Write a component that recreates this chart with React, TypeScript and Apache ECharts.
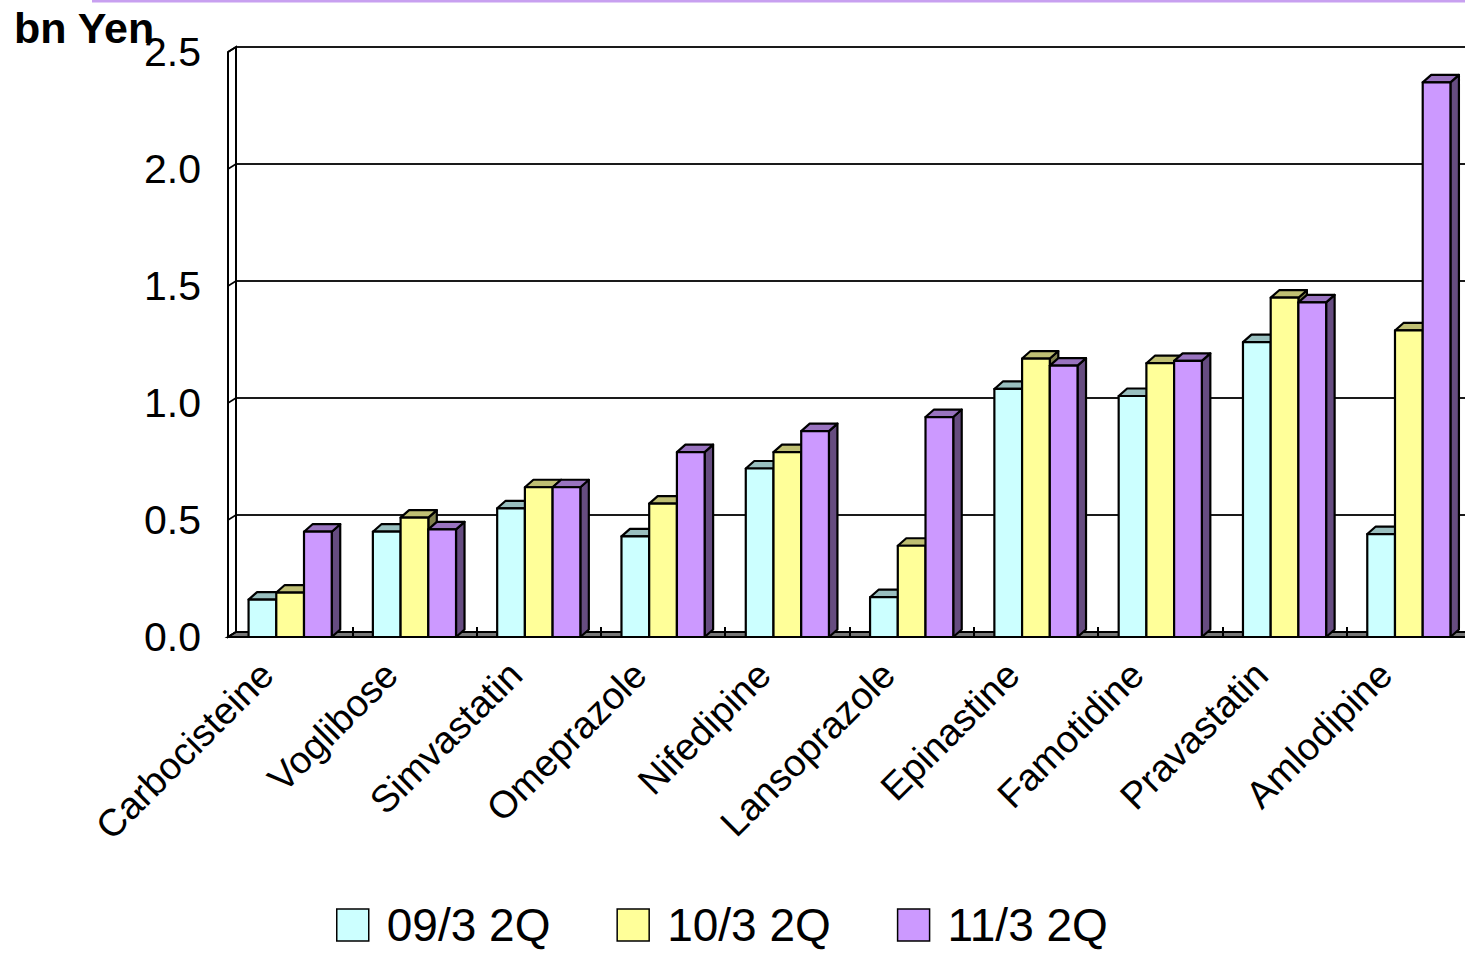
import React, { useEffect, useRef } from "react";
import * as echarts from "echarts";

const categories = [
  "Carbocisteine",
  "Voglibose",
  "Simvastatin",
  "Omeprazole",
  "Nifedipine",
  "Lansoprazole",
  "Epinastine",
  "Famotidine",
  "Pravastatin",
  "Amlodipine",
];
const seriesNames = ["09/3 2Q", "10/3 2Q", "11/3 2Q"];
const s0903 = [0.16, 0.45, 0.55, 0.43, 0.72, 0.17, 1.06, 1.03, 1.26, 0.44];
const s1003 = [0.19, 0.51, 0.64, 0.57, 0.79, 0.39, 1.19, 1.17, 1.45, 1.31];
const s1103 = [0.45, 0.46, 0.64, 0.79, 0.88, 0.94, 1.16, 1.18, 1.43, 2.37];
const yTicks = [0, 0.5, 1.0, 1.5, 2.0, 2.5];
const Y_MAX = 2.5;
const Y_STEP = 0.5;

const FONT = "Liberation Sans, Arial, sans-serif";
const frontColors = ["#ccffff", "#ffff99", "#cc99ff"];
const topColors = ["#99bfbf", "#bfbf73", "#9973bf"];
const sideColors = ["#668080", "#80804c", "#664c80"];

const BAR_DX = 8.5;
const BAR_DY = -7.5;
const WALL_DX = 8;
const WALL_DY = -5;

function barRenderer(k: number) {
  return (params: any, api: any) => {
    const ci = api.value(0);
    const v = api.value(1);
    const p0 = api.coord([ci, 0]);
    const p1 = api.coord([ci, v]);
    const band = api.size([1, 0])[0];
    const bw = band * 0.223;
    const x0 = p0[0] - 1.5 * bw + k * bw;
    const x1 = x0 + bw;
    const yb = p0[1];
    const yt = p1[1];
    const stroke = { stroke: "#000", lineWidth: 2.2, lineJoin: "round" };
    return {
      type: "group",
      children: [
        {
          type: "polygon",
          shape: {
            points: [
              [x1, yb],
              [x1 + BAR_DX, yb + BAR_DY],
              [x1 + BAR_DX, yt + BAR_DY],
              [x1, yt],
            ],
          },
          style: { fill: sideColors[k], ...stroke },
        },
        {
          type: "polygon",
          shape: {
            points: [
              [x0, yt],
              [x0 + BAR_DX, yt + BAR_DY],
              [x1 + BAR_DX, yt + BAR_DY],
              [x1, yt],
            ],
          },
          style: { fill: topColors[k], ...stroke },
        },
        {
          type: "rect",
          shape: { x: x0, y: yt, width: bw, height: yb - yt },
          style: { fill: frontColors[k], ...stroke },
        },
      ],
    };
  };
}

function frameRenderer(params: any, api: any) {
  const band = api.size([1, 0])[0];
  const c0 = api.coord([0, 0]);
  const xl = c0[0] - band / 2;
  const y0 = c0[1];
  const xr = xl + band * categories.length;
  const ytop = api.coord([0, Y_MAX])[1];
  const st = { stroke: "#000", lineWidth: 2 };
  const children: any[] = [
    {
      type: "polygon",
      shape: {
        points: [
          [xl, y0],
          [xl, ytop],
          [xl + WALL_DX, ytop + WALL_DY],
          [xl + WALL_DX, y0 + WALL_DY],
        ],
      },
      style: { fill: "#ffffff", ...st },
    },
    {
      type: "polygon",
      shape: {
        points: [
          [xl, y0],
          [xr, y0],
          [xr + WALL_DX, y0 + WALL_DY],
          [xl + WALL_DX, y0 + WALL_DY],
        ],
      },
      style: { fill: "#777777", ...st },
    },
  ];
  yTicks.forEach((t) => {
    const y = api.coord([0, t])[1];
    children.push({
      type: "line",
      shape: { x1: xl, y1: y, x2: xl + WALL_DX, y2: y + WALL_DY },
      style: { stroke: "#000", lineWidth: 1.5 },
    });
  });
  return { type: "group", children };
}

export default function App() {
  const ref = useRef<HTMLDivElement>(null);
  useEffect(() => {
    if (!ref.current) return;
    const chart = echarts.init(ref.current, null, { renderer: "svg" });
    const data = [s0903, s1003, s1103];
    const barSeries = data.map((arr, k) => ({
      type: "custom",
      name: seriesNames[k],
      xAxisIndex: 1,
      yAxisIndex: 1,
      z: 2,
      renderItem: barRenderer(k),
      itemStyle: { color: frontColors[k] },
      encode: { x: 0, y: 1 },
      data: arr.map((v, i) => [i, v]),
    }));
    chart.setOption({
      animation: false,
      backgroundColor: "#ffffff",
      grid: [
        { left: 236, top: 47, width: 1229, height: 585, outerBoundsMode: "none" },
        { left: 228, top: 52, width: 1243, height: 585, outerBoundsMode: "none" },
      ],
      xAxis: [
        { type: "category", gridIndex: 0, data: categories, show: false },
        {
          type: "category",
          gridIndex: 1,
          data: categories,
          z: 3,
          axisLine: { show: true, lineStyle: { color: "#000", width: 2 } },
          axisTick: {
            show: true,
            inside: true,
            length: 10,
            lineStyle: { color: "#000", width: 2 },
          },
          axisLabel: {
            interval: 0,
            rotate: 45,
            margin: 8,
            padding: [0, 33, 0, 0],
            color: "#000",
            fontSize: 38,
            fontFamily: FONT,
          },
          splitLine: { show: false },
        },
      ],
      yAxis: [
        {
          type: "value",
          gridIndex: 0,
          min: 0,
          max: Y_MAX,
          interval: Y_STEP,
          axisLine: { show: false },
          axisTick: { show: false },
          axisLabel: { show: false },
          splitLine: { show: true, lineStyle: { color: "#1a1a1a", width: 2 } },
        },
        {
          type: "value",
          gridIndex: 1,
          min: 0,
          max: Y_MAX,
          interval: Y_STEP,
          axisLine: { show: false },
          axisTick: { show: false },
          splitLine: { show: false },
          axisLabel: {
            margin: 27,
            padding: [10, 0, 0, 0],
            color: "#000",
            fontSize: 41,
            fontFamily: FONT,
            formatter: (v: number) => v.toFixed(1),
          },
        },
      ],
      legend: {
        data: seriesNames,
        left: 336,
        top: 902,
        padding: 0,
        orient: "horizontal",
        icon: "rect",
        itemWidth: 32,
        itemHeight: 32,
        itemGap: 66,
        itemStyle: { borderColor: "#000", borderWidth: 1.5 },
        textStyle: {
          color: "#000",
          fontSize: 46,
          lineHeight: 40,
          fontFamily: FONT,
          padding: [0, 0, 0, 13],
        },
      },
      graphic: [
        {
          type: "rect",
          left: 92,
          top: 0,
          shape: { width: 1373, height: 2.5 },
          style: { fill: "#c8a0f0" },
          silent: true,
        },
        {
          type: "text",
          x: 14,
          y: 28,
          style: {
            text: "bn Yen",
            fill: "#000",
            font: "bold 43px " + FONT,
            verticalAlign: "middle",
          },
          silent: true,
        },
      ],
      series: [
        {
          type: "custom",
          name: "frame",
          xAxisIndex: 1,
          yAxisIndex: 1,
          z: 1,
          silent: true,
          renderItem: frameRenderer,
          data: [[0, 0]],
        },
        ...barSeries,
      ],
    } as any);
    return () => {
      chart.dispose();
    };
  }, []);
  return (
    <div
      ref={ref}
      style={{ position: "fixed", left: 0, top: 0, width: "1465px", height: "953px" }}
    />
  );
}
